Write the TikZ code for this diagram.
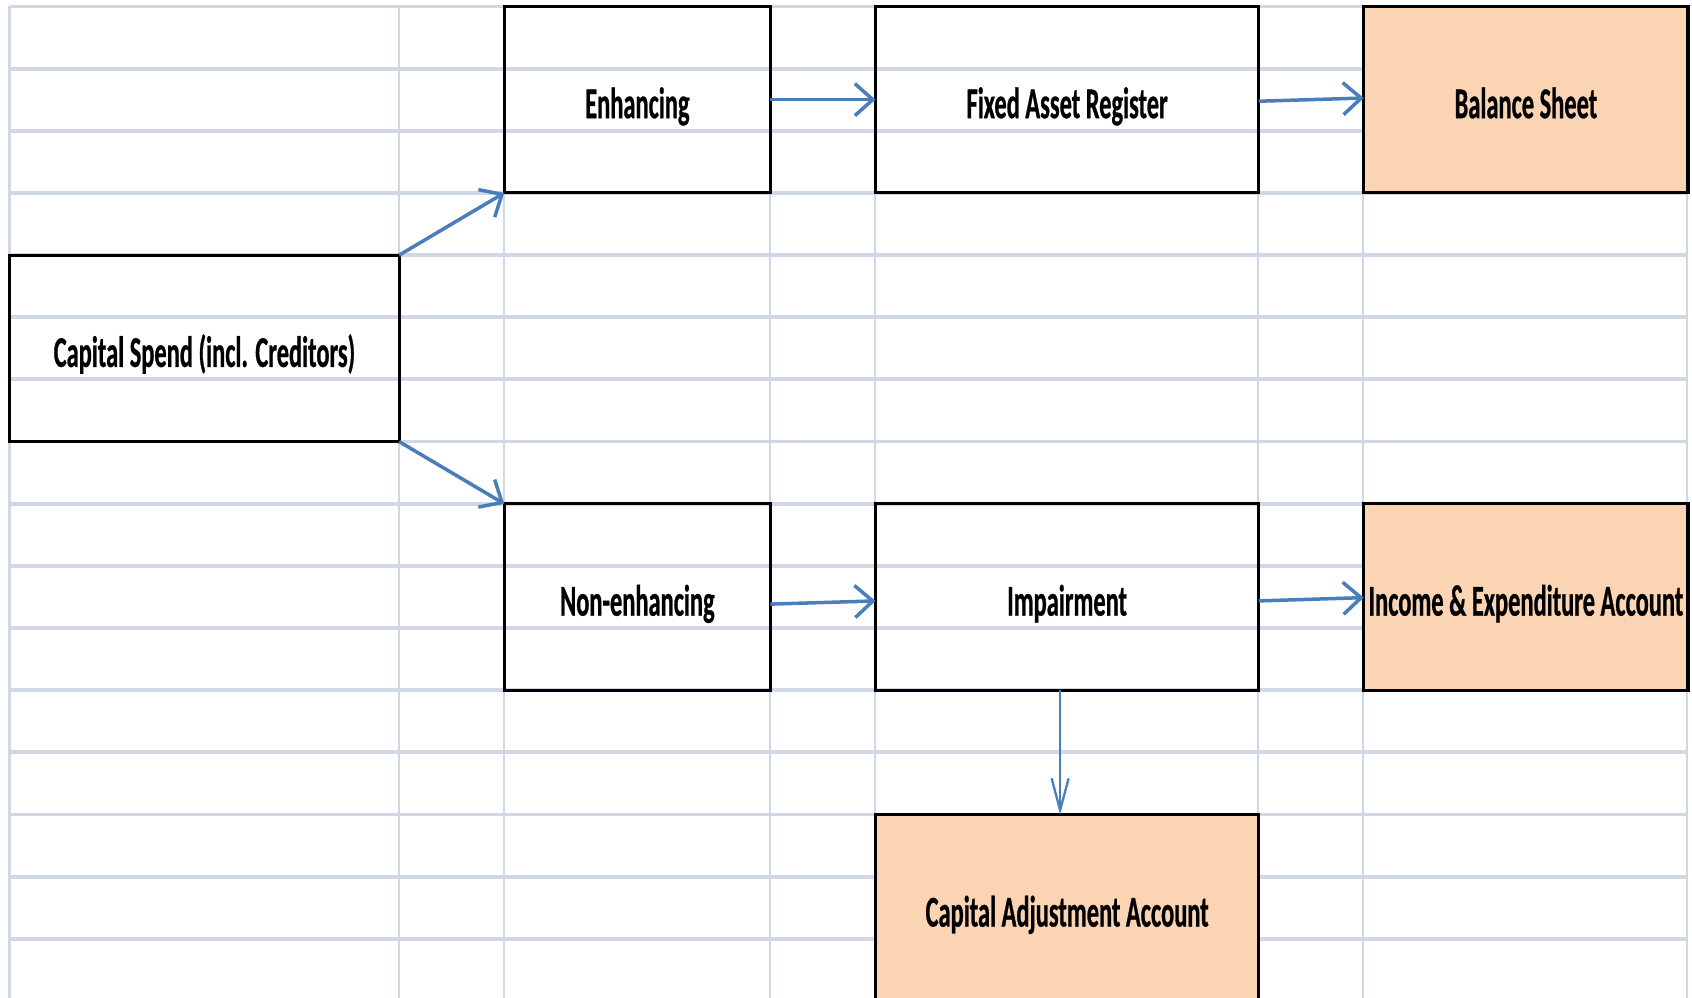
\documentclass[tikz,border=0pt]{standalone}
\usepackage{fontspec}
\newfontfamily\cellfont{Carlito}[FakeStretch=0.556, BoldFeatures={FakeBold=0.6}]
\usepackage{tikz}
\usetikzlibrary{positioning,arrows.meta}
\definecolor{gridgray}{HTML}{D0D7E5}
\definecolor{peach}{HTML}{FBD4B4}
\definecolor{linkblue}{HTML}{4A7EBB}

\begin{document}
\begin{tikzpicture}[
    x=0.01cm, y=-0.01cm,
    node distance=0.6215cm and 1.05cm,
    box/.style={rectangle, draw, line width=0.9pt, inner sep=0pt, outer sep=0pt, minimum height=1.8645cm, text height=0.43cm, text depth=0.06cm, font={\fontsize{12.5pt}{14pt}\cellfont\bfseries}},
    sheet/.style={box, fill=peach},
    arrow/.style={-{Straight Barb[length=0.18cm, width=0.32cm]}, draw=linkblue, line width=1pt},
    varrow/.style={-{Straight Barb[length=0.32cm, width=0.17cm]}, draw=linkblue, line width=0.65pt},
    gridh/.style={draw=gridgray, line width=1.1pt},
    gridv/.style={draw=gridgray, line width=0.7pt}
]
    \path[use as bounding box, clip] (0,0) rectangle (1692,998);

    % Sheet grid
    \foreach \gx in {9.7,399,504,770,875,1258,1363,1687}
        \draw[gridv] (\gx,6.5) -- (\gx,998);
    \foreach \k in {0,...,15}
        \draw[gridh] (9.7,{6.5+62.15*\k}) -- (1687,{6.5+62.15*\k});

    % Source
    \node[box, minimum width=3.893cm, anchor=north west] (capspend) at (9.7,255.1) {Capital Spend (incl. Creditors)};

    % Split
    \node[box, minimum width=2.66cm, above right=of capspend] (enh) {Enhancing};
    \node[box, minimum width=2.66cm, below right=of capspend] (nonenh) {Non-enhancing};
    \node[box, minimum width=3.83cm, right=of enh] (far) {Fixed Asset Register};
    \node[box, minimum width=3.83cm, right=of nonenh] (imp) {Impairment};

    % Statements
    \node[sheet, minimum width=3.24cm, right=of far] (bs) {Balance Sheet};
    \node[sheet, minimum width=3.24cm, right=of imp] (ie) {Income \& Expenditure Account};
    \node[sheet, minimum width=3.83cm, below=1.243cm of imp] (caa) {Capital Adjustment Account};

    % Connections
    \draw[arrow] (capspend.north east) -- (enh.south west);
    \draw[arrow] (capspend.south east) -- (nonenh.north west);
    \draw[arrow] (enh) -- (far);
    \draw[arrow] ([yshift=-0.016cm]far.east) -- ([yshift=0.016cm]bs.west);
    \draw[arrow] ([yshift=-0.07cm]nonenh.east) -- ([yshift=-0.038cm]imp.west);
    \draw[arrow] ([yshift=-0.038cm]imp.east) -- ([yshift=-0.005cm]ie.west);
    \draw[varrow] ([xshift=-0.07cm]imp.south) -- ([xshift=-0.07cm]caa.north);
\end{tikzpicture}
\end{document}
